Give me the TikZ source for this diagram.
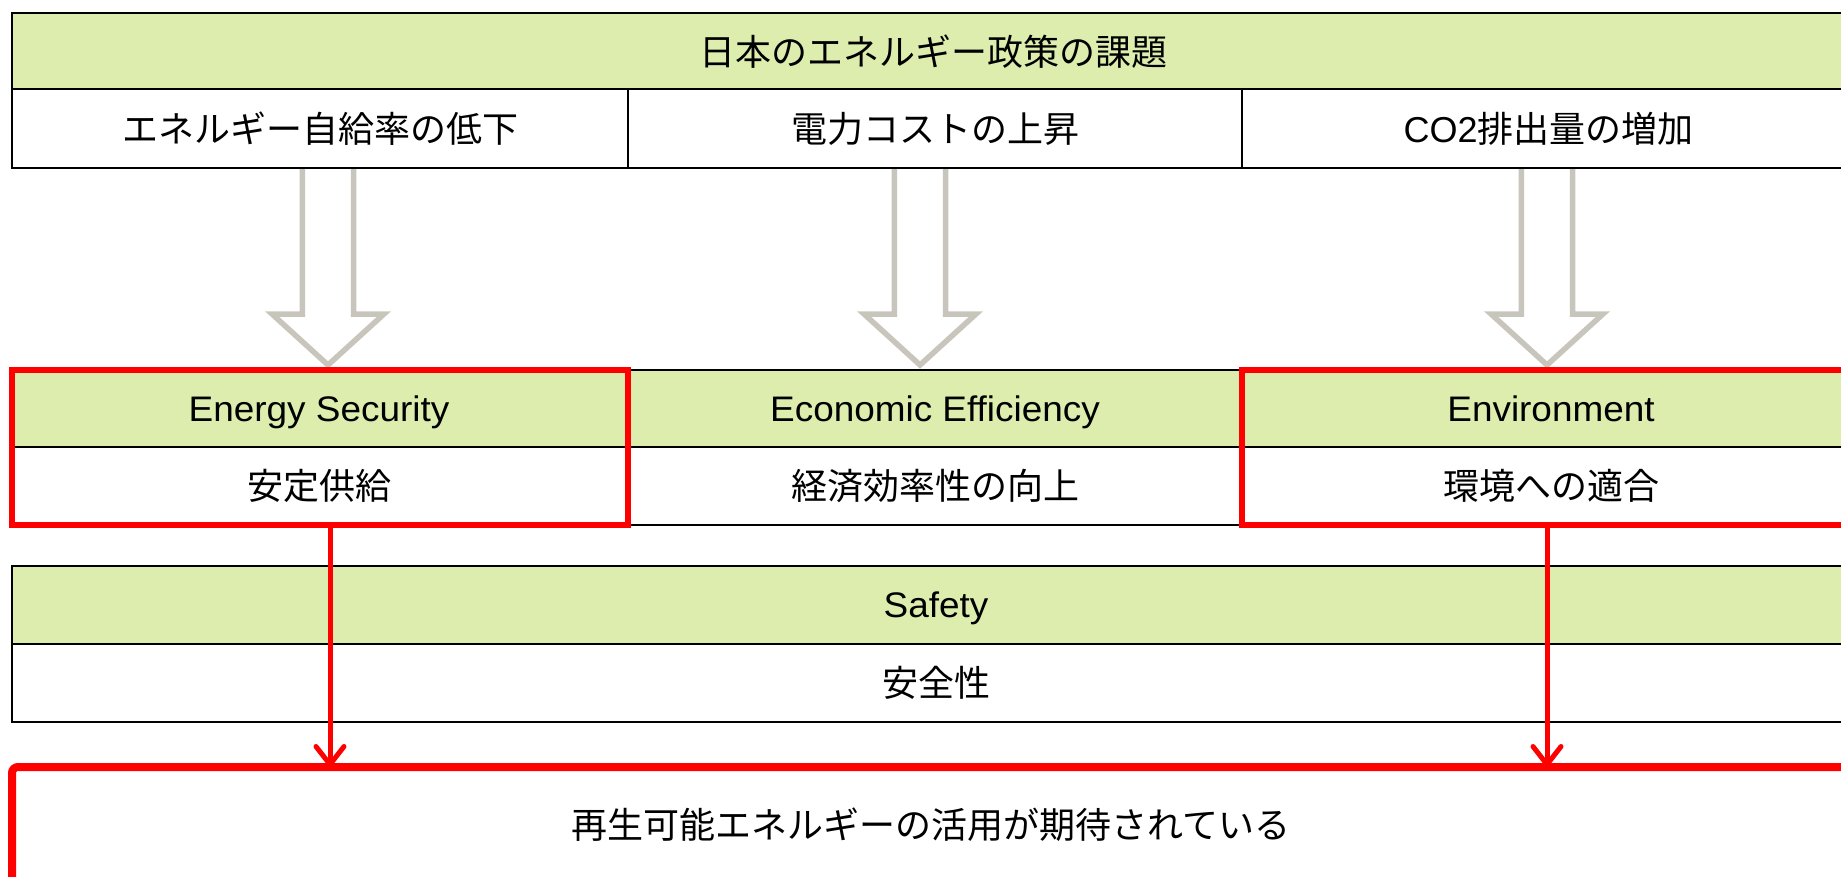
\documentclass[tikz,border=0pt]{standalone}
\usepackage{fontspec}
\setmainfont{Liberation Sans}
\newfontfamily\cjk{Noto Sans CJK JP}
\newfontfamily\enfont[FakeStretch=1.04]{Liberation Sans}
\usetikzlibrary{arrows.meta}
\definecolor{hdrgreen}{RGB}{220,237,174}
\definecolor{arrgray}{RGB}{200,198,188}
\definecolor{redc}{RGB}{255,0,0}
\begin{document}
\begin{tikzpicture}[x=1pt,y=-1pt,
  base/.style={inner sep=0pt, outer sep=0pt, text=black},
  hdr/.style={base, fill=hdrgreen},
  row/.style={base, fill=white},
  tline/.style={draw=black, line width=2.8pt},
  mline/.style={draw=black, line width=1.6pt},
  jp/.style={font=\cjk\fontsize{36}{43}\selectfont},
  en/.style={font=\enfont\fontsize{35.5}{42}\selectfont, text height=25pt, text depth=0pt},
  redbox/.style={base, draw=redc, line width=6pt},
  garrow/.style={draw=arrgray, line width=5.5pt, fill=white, line join=miter},
  rarrow/.style={draw=redc, line width=5pt, -{Straight Barb[length=18pt,width=28pt,line cap=round,line join=round]}},
  txt/.style={base}
]
\useasboundingbox (0,0) rectangle (1841,877);
\clip (0,0) rectangle (1841,877);

% gray block arrows
\foreach \c in {328,920,1547}{
  \draw[garrow] (\c-25.7,166) -- (\c-25.7,314) -- (\c-56,314) -- (\c,365) -- (\c+56,314) -- (\c+25.7,314) -- (\c+25.7,166);
}

% top table
\node[hdr, tline, jp, minimum width=1843pt, minimum height=77pt] (th) at (933.5,51.5) {日本のエネルギー政策の課題};
\node[row, tline, jp, minimum width=616pt, minimum height=79pt] (t1) at (320,128.5) {エネルギー自給率の低下};
\node[row, tline, jp, minimum width=614pt, minimum height=79pt] (t2) at (935,128.5) {電力コストの上昇};
\node[row, tline, font=\fontsize{36}{43}\selectfont, minimum width=613pt, minimum height=79pt] (t3) at (1548.5,128.5) {CO2{\cjk 排出量の増加}};

% middle table
\node[hdr, mline, en, minimum width=618pt, minimum height=77pt] (m1h) at (319,408.5) {Energy Security};
\node[hdr, mline, en, minimum width=614pt, minimum height=77pt] (m2h) at (935,408.5) {Economic Efficiency};
\node[hdr, mline, en, minimum width=618pt, minimum height=77pt] (m3h) at (1551,408.5) {Environment};
\node[row, mline, jp, minimum width=618pt, minimum height=78pt] (m1r) at (319,486) {安定供給};
\node[row, mline, jp, minimum width=614pt, minimum height=78pt] (m2r) at (935,486) {経済効率性の向上};
\node[row, mline, jp, minimum width=618pt, minimum height=78pt] (m3r) at (1551,486) {環境への適合};

% red highlight boxes
\node[redbox, minimum width=616pt, minimum height=155pt] (rb1) at (320,447.5) {};
\node[redbox, minimum width=618pt, minimum height=155pt] (rb2) at (1551,447.5) {};

% safety table
\node[hdr, mline, en, minimum width=1848pt, minimum height=78pt] (sh) at (936,605) {Safety};
\node[row, mline, jp, minimum width=1848pt, minimum height=78pt] (sr) at (936,683) {安全性};

% bottom box
\node[base, draw=redc, line width=8pt, rounded corners=6pt, fill=white, minimum width=1848pt, minimum height=123pt] (bb) at (936,828.5) {};
\node[txt, jp] (bt) at (931,825) {再生可能エネルギーの活用が期待されている};

% red arrows
\coordinate (ax1) at (330,0);
\coordinate (ax2) at (1547,0);
\draw[rarrow] (rb1.south -| ax1) -- (bb.north -| ax1);
\draw[rarrow] (rb2.south -| ax2) -- (bb.north -| ax2);
\end{tikzpicture}
\end{document}
